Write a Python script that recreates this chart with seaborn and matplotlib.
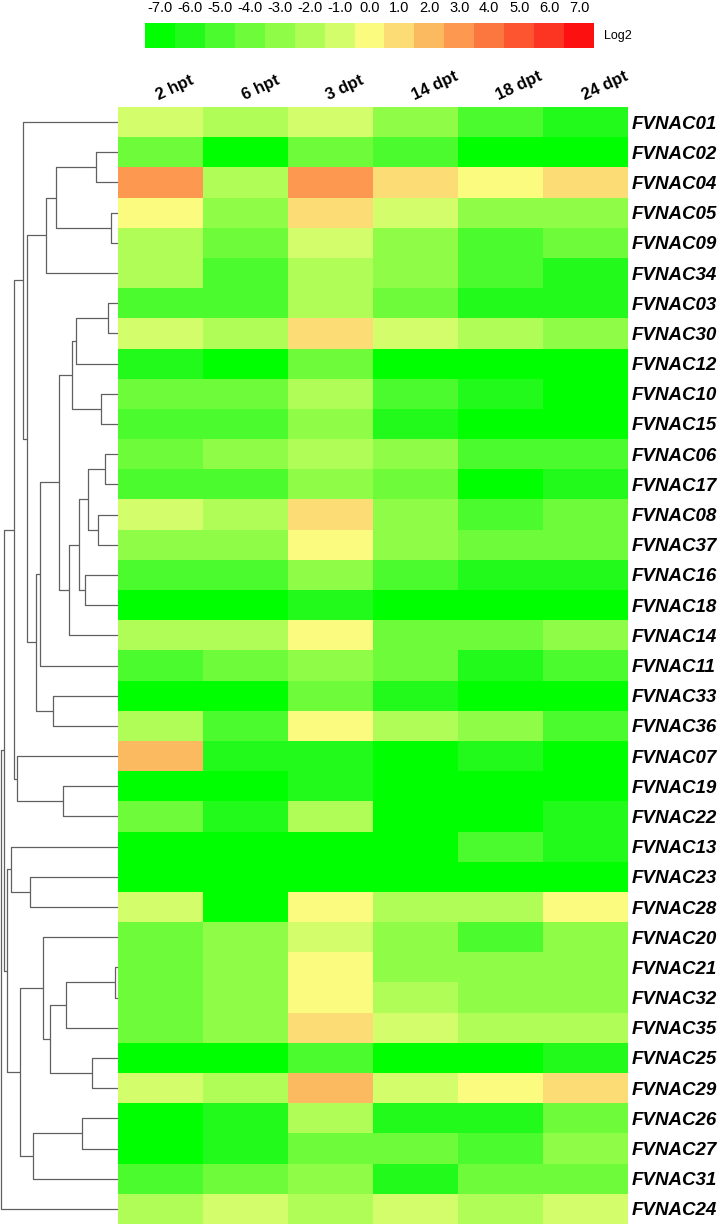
import matplotlib

matplotlib.use('Agg')
import matplotlib.pyplot as plt
import numpy as np
import pandas as pd
import seaborn as sns
from matplotlib.colors import ListedColormap

sns.set_style('white')
plt.rcParams['font.family'] = ['Liberation Sans', 'DejaVu Sans']
plt.rcParams['text.color'] = 'black'
plt.rcParams['xtick.color'] = 'black'
plt.rcParams['ytick.color'] = 'black'

# time points (columns) and genes (rows, in dendrogram order)
times = ['2 hpt', '6 hpt', '3 dpt', '14 dpt', '18 dpt', '24 dpt']
genes = ['FVNAC01', 'FVNAC02', 'FVNAC04', 'FVNAC05', 'FVNAC09', 'FVNAC34',
         'FVNAC03', 'FVNAC30', 'FVNAC12', 'FVNAC10', 'FVNAC15', 'FVNAC06',
         'FVNAC17', 'FVNAC08', 'FVNAC37', 'FVNAC16', 'FVNAC18', 'FVNAC14',
         'FVNAC11', 'FVNAC33', 'FVNAC36', 'FVNAC07', 'FVNAC19', 'FVNAC22',
         'FVNAC13', 'FVNAC23', 'FVNAC28', 'FVNAC20', 'FVNAC21', 'FVNAC32',
         'FVNAC35', 'FVNAC25', 'FVNAC29', 'FVNAC26', 'FVNAC27', 'FVNAC31',
         'FVNAC24']

# log2 fold change, binned to the colour key
log2_values = [
    [-1, -2, -1, -3, -5, -6],   # 01
    [-4, -7, -4, -5, -7, -7],   # 02
    [3, -2, 3, 1, 0, 1],        # 04
    [0, -3, 1, -1, -3, -3],     # 05
    [-2, -4, -1, -3, -5, -4],   # 09
    [-2, -5, -2, -3, -5, -6],   # 34
    [-5, -5, -2, -4, -6, -6],   # 03
    [-1, -2, 1, -1, -2, -3],    # 30
    [-6, -7, -4, -7, -7, -7],   # 12
    [-4, -4, -2, -5, -6, -7],   # 10
    [-5, -5, -3, -6, -7, -7],   # 15
    [-4, -3, -2, -3, -5, -5],   # 06
    [-5, -5, -3, -4, -7, -6],   # 17
    [-1, -2, 1, -3, -5, -4],    # 08
    [-3, -3, 0, -3, -4, -4],    # 37
    [-5, -5, -3, -5, -6, -6],   # 16
    [-7, -7, -6, -7, -7, -7],   # 18
    [-2, -2, 0, -4, -4, -3],    # 14
    [-5, -4, -3, -4, -6, -5],   # 11
    [-7, -7, -4, -6, -7, -7],   # 33
    [-2, -5, 0, -2, -3, -5],    # 36
    [2, -6, -6, -7, -6, -7],    # 07
    [-7, -7, -6, -7, -7, -7],   # 19
    [-4, -6, -2, -7, -7, -6],   # 22
    [-7, -7, -7, -7, -5, -6],   # 13
    [-7, -7, -7, -7, -7, -7],   # 23
    [-1, -7, 0, -2, -2, 0],     # 28
    [-4, -3, -1, -3, -5, -3],   # 20
    [-4, -3, 0, -3, -3, -3],    # 21
    [-4, -3, 0, -2, -3, -3],    # 32
    [-4, -3, 1, -1, -2, -2],    # 35
    [-7, -7, -5, -7, -7, -6],   # 25
    [-1, -2, 2, -1, 0, 1],      # 29
    [-7, -6, -2, -6, -6, -4],   # 26
    [-7, -6, -4, -4, -5, -3],   # 27
    [-5, -4, -3, -6, -4, -4],   # 31
    [-2, -1, -2, -1, -2, -1],   # 24
]

key_levels = list(range(-7, 8))

# cluster merges: (id, left, right, height)
merges = [
    ('c1', 'FVNAC02', 'FVNAC04', 22.3),
    ('c2', 'FVNAC05', 'FVNAC09', 7.3),
    ('c3', 'c1', 'c2', 61.6),
    ('c4', 'c3', 'FVNAC34', 72.0),
    ('c5', 'FVNAC03', 'FVNAC30', 10.0),
    ('c6', 'c5', 'FVNAC12', 42.3),
    ('c7', 'FVNAC10', 'FVNAC15', 16.6),
    ('c8', 'c6', 'c7', 46.0),
    ('c9', 'FVNAC06', 'FVNAC17', 13.0),
    ('c10', 'FVNAC08', 'FVNAC37', 20.0),
    ('c11', 'c9', 'c10', 29.6),
    ('c12', 'FVNAC16', 'FVNAC18', 32.6),
    ('c13', 'c11', 'c12', 39.0),
    ('c14', 'c13', 'FVNAC14', 49.0),
    ('c15', 'c8', 'c14', 58.6),
    ('c16', 'c15', 'FVNAC11', 78.0),
    ('c17', 'FVNAC33', 'FVNAC36', 65.0),
    ('c18', 'c16', 'c17', 81.6),
    ('c19', 'c4', 'c18', 91.0),
    ('c20', 'FVNAC01', 'c19', 94.6),
    ('c21', 'FVNAC19', 'FVNAC22', 55.3),
    ('c22', 'FVNAC07', 'c21', 101.0),
    ('c23', 'c20', 'c22', 104.0),
    ('c24', 'FVNAC23', 'FVNAC28', 88.0),
    ('c25', 'FVNAC13', 'c24', 107.3),
    ('c26', 'FVNAC21', 'FVNAC32', 3.3),
    ('c27', 'c26', 'FVNAC35', 52.0),
    ('c28', 'FVNAC25', 'FVNAC29', 26.0),
    ('c29', 'c27', 'c28', 68.3),
    ('c30', 'FVNAC20', 'c29', 75.0),
    ('c31', 'FVNAC26', 'FVNAC27', 36.0),
    ('c32', 'c31', 'FVNAC31', 85.0),
    ('c33', 'c30', 'c32', 97.6),
    ('c34', 'c25', 'c33', 110.6),
    ('c35', 'c23', 'c34', 114.0),
    ('c36', 'c35', 'FVNAC24', 116.6),
]

key_colors = ['#00ff00', '#22fa1c', '#4cfb2e', '#6efc3a', '#8ffd47', '#b1fd57',
              '#d4fd6c', '#fbfb80', '#fcdc74', '#fcba60', '#fc9850', '#fc7640',
              '#fc5530', '#fc3522', '#fc1010']
cmap = ListedColormap(key_colors)

W, H = 722, 1225
fig = plt.figure(figsize=(W / 100, H / 100), dpi=100)

hm_top, hm_bot = 107, 1224
ax = fig.add_axes([118 / W, (H - hm_bot) / H, 510 / W, (hm_bot - hm_top) / H])
df = pd.DataFrame(log2_values, index=genes, columns=times)
sns.heatmap(df, cmap=cmap, vmin=-7.5, vmax=7.5, cbar=False, ax=ax, linewidths=0)
ax.yaxis.tick_right()
ax.xaxis.tick_top()
ax.tick_params(length=0, pad=3)
ax.set_yticklabels(genes, rotation=0, fontsize=13.5, fontweight='bold',
                   fontstyle='italic', color='black')
ax.set_xticklabels(times, rotation=25, ha='left', va='bottom', rotation_mode='anchor',
                   fontsize=12, fontweight='bold', color='black')
ax.set_xlabel('')
ax.set_ylabel('')

# dendrogram
dax = fig.add_axes([0, (H - hm_bot) / H, 118 / W, (hm_bot - hm_top) / H])
pos = {g: (i + 0.5, 0.0) for i, g in enumerate(genes)}
for cid, a, b, h in merges:
    ya, ha_ = pos[a]
    yb, hb = pos[b]
    dax.plot([ha_, h, h, hb], [ya, ya, yb, yb], color='#606060', lw=0.9,
             solid_capstyle='butt')
    pos[cid] = ((ya + yb) / 2, h)
dax.set_xlim(118, 0)
dax.set_ylim(len(genes), 0)
dax.axis('off')

# colour key
cax = fig.add_axes([145 / W, (H - 48) / H, 449 / W, 25 / H])
sns.heatmap(np.array([key_levels]), cmap=cmap, vmin=-7.5, vmax=7.5, cbar=False, ax=cax,
            xticklabels=[f'{v:.1f}' for v in key_levels], yticklabels=False)
cax.xaxis.tick_top()
cax.tick_params(length=0, pad=6)
cax.set_xticklabels([f'{v:.1f}' for v in key_levels], rotation=0, fontsize=10.5,
                    color='black')
fig.text(604 / W, 1 - 36 / H, 'Log2', fontsize=9, va='center', ha='left', color='black')

fig.savefig('out.png', dpi=100)
